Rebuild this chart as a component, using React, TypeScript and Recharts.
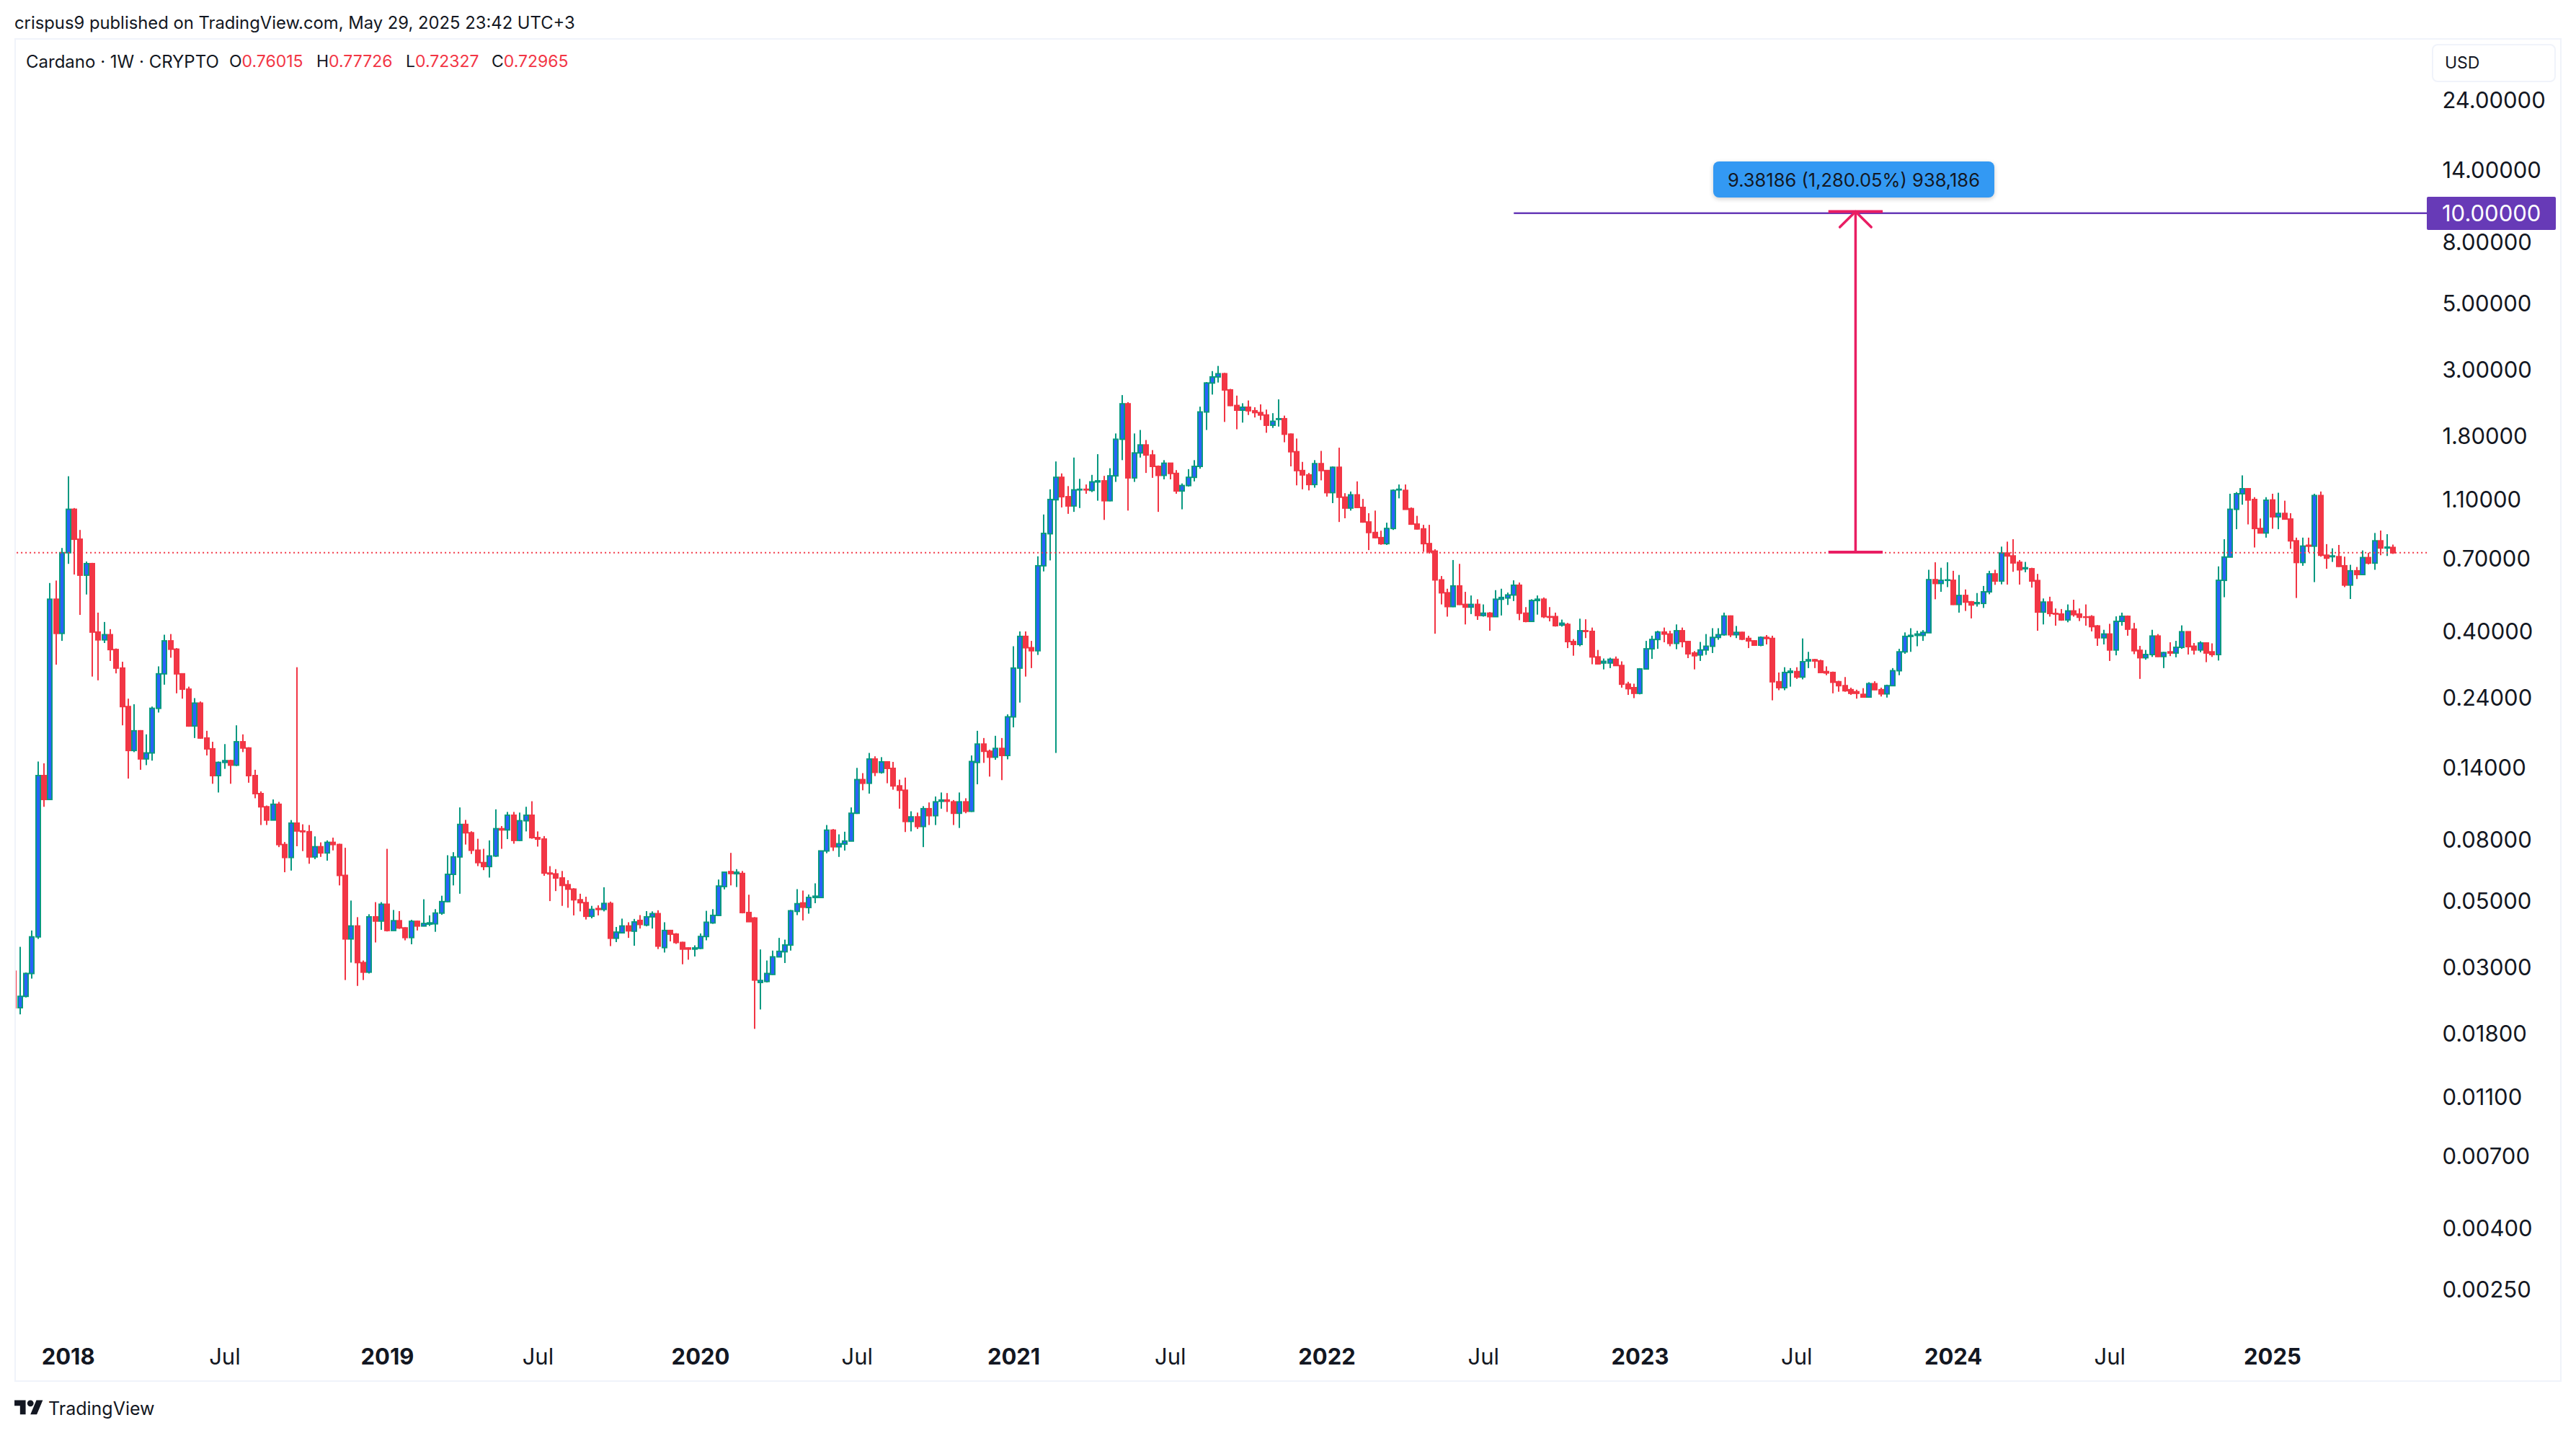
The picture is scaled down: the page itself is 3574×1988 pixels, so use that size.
import React from 'react';
import { ComposedChart, Bar, XAxis, YAxis, ReferenceLine } from 'recharts';

// Weekly ADA/USD candles, index 0 = week of 2017-10-30, index 395 = week of 2025-05-26
const opens = [
.029,.0219,.0239,.0285,.0378,.131,.109,.51,.392,.73,
1.02,.81,.614,.671,.396,.373,.388,.346,.30,.223,
.159,.185,.149,.156,.22,.287,.37,.347,.287,.255,
.192,.229,.175,.161,.131,.145,.147,.142,.17,.162,
.131,.114,.103,.093,.105,.077,.0697,.0908,.0855,.085,
.07,.0757,.0722,.0783,.077,.0607,.0372,.0411,.031,.0288,
.0441,.0427,.0486,.0397,.0428,.0405,.0376,.0426,.0411,.0417,
.0418,.0454,.0496,.0612,.07,.0899,.0843,.0737,.067,.065,
.0705,.087,.0862,.0965,.0795,.0925,.0965,.0812,.0803,.0618,
.0614,.0595,.0565,.0546,.0503,.0492,.0443,.047,.0467,.0489,
.0374,.039,.0411,.0395,.0429,.0414,.0441,.0452,.0348,.0397,
.0386,.0362,.0347,.0344,.0346,.0379,.0421,.0446,.0557,.0625,
.0615,.0616,.0456,.0437,.0266,.0268,.0283,.0324,.0337,.0355,
.046,.0491,.0474,.0512,.0512,.0733,.086,.0757,.0773,.0791,
.098,.127,.1235,.1488,.1343,.1456,.1385,.121,.117,.092,
.0953,.0885,.1015,.0962,.1075,.1085,.107,.098,.107,.0995,
.145,.167,.158,.151,.1615,.153,.206,.30,.383,.351,
.343,.66,.845,1.098,1.305,1.124,1.047,1.185,1.19,1.18,
1.26,1.27,1.09,1.32,1.75,2.30,1.30,1.575,1.675,1.55,
1.42,1.325,1.455,1.345,1.175,1.225,1.305,1.42,2.16,2.70,
2.83,2.90,2.56,2.27,2.19,2.24,2.18,2.15,2.11,1.95,
2.04,2.05,1.82,1.59,1.375,1.33,1.235,1.45,1.375,1.16,
1.41,1.12,1.03,1.14,1.035,.925,.853,.82,.783,.88,
1.185,1.18,1.025,.91,.877,.783,.739,.592,.536,.482,
.565,.49,.48,.49,.45,.458,.446,.51,.515,.527,
.568,.458,.43,.505,.51,.446,.446,.418,.42,.368,
.36,.40,.398,.327,.312,.312,.321,.306,.265,.258,
.247,.298,.348,.374,.396,.39,.363,.40,.368,.337,
.332,.345,.355,.38,.388,.448,.388,.395,.377,.37,
.358,.38,.377,.27,.258,.29,.292,.28,.317,.32,
.317,.292,.29,.27,.262,.254,.25,.245,.24,.266,
.254,.246,.262,.294,.34,.383,.386,.386,.394,.593,
.576,.59,.59,.49,.525,.50,.493,.494,.54,.62,
.587,.728,.712,.678,.645,.645,.589,.462,.499,.457,
.455,.435,.466,.455,.445,.446,.415,.379,.39,.345,
.43,.447,.405,.344,.325,.333,.384,.328,.34,.337,
.352,.397,.355,.345,.364,.34,.333,.59,.706,1.02,
1.15,1.195,1.10,.88,.85,1.096,.963,.988,.946,.80,
.677,.773,.768,1.134,.716,.708,.708,.66,.569,.635,
.617,.703,.674,.80,.757,.76015];

const closes = [
.0219,.0239,.0285,.0378,.131,.109,.51,.392,.73,1.02,
.81,.614,.671,.396,.373,.388,.346,.30,.223,.159,
.185,.149,.156,.22,.287,.37,.347,.287,.255,.192,
.229,.175,.161,.131,.145,.147,.142,.17,.162,.131,
.114,.103,.093,.105,.077,.0697,.0908,.0855,.085,.07,
.0757,.0722,.0783,.077,.0607,.0372,.0411,.031,.0288,.0441,
.0427,.0486,.0397,.0428,.0405,.0376,.0426,.0411,.0419,.0421,
.0454,.0496,.0612,.07,.0899,.0843,.0737,.067,.065,.0705,
.087,.0862,.0965,.0795,.0925,.0965,.0812,.0803,.0618,.0614,
.0595,.0562,.0546,.0503,.0492,.0443,.0467,.0467,.0489,.0374,
.0392,.0411,.0396,.0424,.0416,.0441,.0452,.0352,.0397,.0386,
.0362,.0344,.0344,.0347,.0379,.0423,.0446,.0559,.0622,.0616,
.0622,.0456,.0425,.0271,.027,.0285,.0324,.0338,.0355,.0462,
.0488,.0475,.0512,.0517,.0733,.086,.0757,.0775,.0791,.098,
.127,.1235,.1488,.1343,.1456,.1385,.121,.117,.092,.0953,
.0885,.1015,.0962,.107,.1085,.1075,.098,.107,.0995,.146,
.167,.158,.151,.1615,.153,.206,.30,.383,.351,.343,
.66,.847,1.10,1.305,1.124,1.047,1.185,1.19,1.185,1.26,
1.27,1.09,1.32,1.75,2.30,1.30,1.575,1.675,1.55,1.42,
1.325,1.455,1.345,1.175,1.225,1.305,1.42,2.16,2.70,2.83,
2.90,2.56,2.27,2.19,2.24,2.18,2.15,2.11,1.95,2.01,
2.05,1.82,1.59,1.375,1.33,1.235,1.45,1.375,1.16,1.41,
1.12,1.03,1.14,1.035,.925,.853,.82,.783,.88,1.18,
1.19,1.02,.91,.877,.783,.735,.592,.536,.482,.565,
.49,.48,.49,.45,.458,.446,.51,.517,.527,.568,
.458,.43,.505,.51,.446,.444,.416,.424,.368,.36,
.40,.398,.327,.31,.316,.321,.306,.265,.256,.247,
.298,.348,.374,.396,.39,.363,.40,.368,.335,.33,
.345,.355,.38,.388,.448,.388,.395,.375,.37,.358,
.38,.377,.27,.258,.29,.293,.28,.315,.32,.317,
.29,.289,.269,.262,.252,.247,.247,.24,.266,.254,
.246,.262,.294,.34,.383,.386,.39,.395,.593,.576,
.59,.592,.49,.525,.499,.488,.497,.54,.62,.587,
.728,.712,.675,.64,.65,.587,.462,.499,.457,.455,
.435,.466,.453,.444,.444,.413,.379,.39,.345,.43,
.447,.405,.343,.325,.333,.384,.328,.338,.337,.352,
.397,.354,.345,.364,.337,.333,.59,.706,1.02,1.15,
1.195,1.096,.88,.85,1.094,.963,.988,.946,.80,.677,
.768,.768,1.134,.716,.70,.712,.657,.569,.635,.617,
.703,.674,.80,.757,.762,.72965];

const highs = [
.0306,.035,.0287,.0397,.146,.144,.578,.589,.757,1.316,
1.03,.87,.682,.675,.46,.428,.405,.349,.315,.237,
.227,.186,.18,.223,.304,.388,.39,.35,.288,.26,
.238,.232,.185,.17,.146,.167,.148,.193,.18,.163,
.137,.116,.104,.109,.107,.0785,.093,.302,.09,.0895,
.082,.0783,.0795,.0812,.0775,.0751,.05,.044,.0315,.045,
.0494,.0494,.0745,.0465,.0461,.0407,.0431,.0428,.0505,.0446,
.0468,.0519,.0709,.0726,.1025,.0931,.0853,.0805,.0745,.0795,
.101,.0888,.099,.099,.0985,.103,.1075,.0852,.0822,.0652,
.0637,.0628,.0585,.055,.0527,.0515,.048,.0482,.0554,.0496,
.0408,.0435,.0423,.0434,.0447,.0461,.046,.0464,.0423,.0399,
.0389,.0364,.0349,.0354,.0388,.0462,.0468,.0588,.0625,.0722,
.0637,.0628,.0523,.044,.0343,.0315,.034,.0375,.037,.0465,
.0546,.054,.0524,.0571,.0735,.0895,.0868,.0833,.085,.1025,
.139,.1335,.156,.152,.151,.146,.1456,.127,.129,.0995,
.0985,.1035,.1065,.1115,.115,.1145,.1085,.115,.11,.153,
.185,.175,.16,.178,.175,.21,.355,.398,.398,.37,
.71,.98,1.19,1.475,1.345,1.22,1.52,1.29,1.235,1.33,
1.56,1.32,1.40,1.83,2.46,2.33,1.83,1.88,1.74,1.61,
1.43,1.49,1.46,1.38,1.245,1.39,1.49,2.25,2.72,2.96,
3.08,2.92,2.58,2.45,2.31,2.36,2.24,2.29,2.20,2.14,
2.38,2.10,1.83,1.76,1.47,1.35,1.49,1.60,1.38,1.42,
1.64,1.155,1.17,1.265,1.105,.99,1.01,.865,.92,1.19,
1.235,1.235,1.035,.97,.905,.905,.75,.61,.553,.69,
.67,.54,.525,.51,.49,.462,.547,.553,.537,.59,
.58,.48,.51,.525,.517,.48,.46,.436,.425,.375,
.439,.437,.41,.345,.323,.325,.328,.316,.27,.266,
.30,.37,.385,.40,.41,.40,.42,.41,.37,.342,
.367,.39,.408,.408,.46,.45,.415,.397,.385,.372,
.383,.387,.385,.29,.302,.30,.302,.377,.34,.322,
.32,.304,.292,.272,.28,.258,.254,.257,.269,.271,
.258,.264,.30,.348,.395,.408,.40,.402,.64,.678,
.65,.678,.635,.615,.55,.503,.535,.565,.635,.64,
.765,.795,.81,.69,.68,.65,.62,.513,.52,.475,
.473,.49,.508,.475,.49,.451,.418,.403,.422,.447,
.46,.45,.425,.356,.345,.403,.39,.34,.366,.37,
.417,.398,.364,.369,.365,.363,.657,.81,1.15,1.165,
1.325,1.2,1.12,.95,1.12,1.15,1.159,1.09,.99,.82,
.82,.82,1.15,1.17,.78,.755,.775,.708,.665,.654,
.743,.73,.85,.866,.842,.77726];

const lows = [
.0192,.0208,.0237,.0274,.0372,.103,.109,.308,.37,.67,
.617,.452,.529,.281,.273,.364,.317,.288,.193,.128,
.157,.137,.142,.147,.213,.264,.325,.247,.237,.191,
.175,.174,.153,.123,.115,.138,.123,.141,.157,.124,
.11,.0895,.0895,.093,.0755,.0622,.063,.076,.0732,.0664,
.0688,.07,.068,.0736,.0562,.0271,.031,.0259,.0271,.0285,
.0362,.0399,.0394,.0397,.0402,.0368,.0357,.0397,.041,.0411,
.0393,.0448,.0494,.0562,.0527,.077,.0716,.0652,.0632,.0597,
.07,.0745,.0803,.0775,.079,.0852,.0805,.0758,.0605,.0498,
.0538,.048,.0473,.0446,.046,.0432,.0436,.0446,.046,.0352,
.0363,.0388,.0375,.0353,.0403,.041,.0403,.0344,.0335,.0365,
.0358,.0306,.0317,.0325,.0344,.0368,.0418,.0445,.0545,.0562,
.0555,.0453,.0424,.0186,.0216,.0266,.0282,.0324,.0309,.034,
.0447,.0429,.0452,.049,.0511,.072,.0733,.07,.0735,.079,
.0975,.117,.114,.1305,.133,.1235,.1175,.1015,.0848,.0852,
.0868,.0755,.0895,.0895,.1015,.099,.0895,.0875,.098,.099,
.1225,.1445,.13,.148,.1265,.1485,.19,.23,.281,.30,
.332,.632,.688,.156,1.035,.985,1.0,1.03,1.15,1.165,
1.09,.94,1.085,1.26,1.49,1.01,1.26,1.52,1.35,1.30,
1.0,1.285,1.285,1.15,1.02,1.215,1.265,1.395,1.88,2.47,
2.71,2.0,2.26,1.89,1.99,2.11,2.07,2.03,1.84,1.91,
1.93,1.71,1.42,1.227,1.19,1.18,1.205,1.275,1.125,1.07,
.925,.952,1.01,1.03,.92,.745,.815,.776,.775,.87,
1.11,1.02,.905,.873,.735,.725,.391,.49,.446,.48,
.488,.42,.455,.435,.446,.40,.445,.45,.488,.503,
.434,.427,.428,.453,.441,.43,.413,.413,.35,.33,
.355,.378,.309,.309,.297,.30,.305,.258,.244,.238,
.245,.297,.322,.348,.366,.355,.347,.352,.324,.297,
.317,.332,.337,.373,.385,.381,.378,.372,.35,.356,
.355,.36,.234,.253,.253,.26,.276,.275,.30,.30,
.289,.284,.247,.25,.25,.244,.237,.239,.24,.253,
.241,.239,.261,.284,.335,.34,.355,.37,.394,.51,
.54,.56,.488,.46,.466,.44,.482,.477,.53,.57,
.572,.571,.63,.571,.628,.558,.40,.42,.446,.416,
.432,.427,.446,.431,.416,.398,.356,.36,.317,.331,
.416,.385,.334,.276,.32,.327,.327,.30,.329,.326,
.348,.333,.333,.339,.314,.327,.318,.518,.705,.875,
1.057,.908,.76,.848,.82,.878,.875,.944,.752,.515,
.66,.733,.582,.708,.645,.68,.654,.56,.511,.596,
.615,.667,.64,.716,.712,.72327];

const priceTicks = [24, 14, 8, 5, 3, 1.8, 1.1, 0.7, 0.4, 0.24, 0.14, 0.08, 0.05, 0.03, 0.018, 0.011, 0.007, 0.004, 0.0025];
const timeTickIndex = [9, 35, 62, 87, 114, 140, 166, 192, 218, 244, 270, 296, 322, 348, 375];
const timeTickLabels = ['2018', 'Jul', '2019', 'Jul', '2020', 'Jul', '2021', 'Jul', '2022', 'Jul', '2023', 'Jul', '2024', 'Jul', '2025'];

const LAST_CLOSE = 0.72965;
const TARGET_PRICE = 10;
const MEASURE_FROM = 0.7329;
const MEASURE_TO = 10.115;
const MEASURE_HEAD = 8.98;

const FUTURE_ROWS = 6;
const rows: any[] = [];
for (let i = 0; i < opens.length + FUTURE_ROWS; i++) {
  if (i < opens.length) {
    rows.push({
      idx: i,
      up: closes[i] >= opens[i],
      wick: [lows[i], highs[i]],
      body: [Math.min(opens[i], closes[i]), Math.max(opens[i], closes[i])],
    });
  } else {
    rows.push({ idx: i });
  }
}

const UP_WICK = '#089981';
const UP_FILL = '#2962FF';
const DOWN = '#F23645';
const INK = '#131722';
const FONT = 'Inter, sans-serif';

const WickShape = (p: any) => {
  if (!p.payload || !p.payload.wick || !isFinite(p.y) || !isFinite(p.height)) return null;
  const cx = Math.round(p.x + p.width / 2);
  return <rect x={cx - 1} y={p.y} width={2} height={Math.max(p.height, 1)} fill={p.payload.up ? UP_WICK : DOWN} />;
};
const BodyShape = (p: any) => {
  if (!p.payload || !p.payload.body || !isFinite(p.y) || !isFinite(p.height)) return null;
  const cx = Math.round(p.x + p.width / 2);
  return (
    <rect
      x={cx - 3}
      y={p.y}
      width={6}
      height={Math.max(p.height, 0.5)}
      fill={p.payload.up ? UP_FILL : DOWN}
      stroke={p.payload.up ? UP_WICK : DOWN}
      strokeWidth={2}
    />
  );
};

const PriceTick = (p: any) => (
  <text x={p.x + 14} y={p.y} textAnchor="start" dominantBaseline="central" fontFamily={FONT} fontSize={31} fill={INK}>
    {Number(p.payload.value).toFixed(5)}
  </text>
);
const TimeTick = (p: any) => {
  const k = timeTickIndex.indexOf(p.payload.value);
  const label = timeTickLabels[k] ?? '';
  return (
    <text x={p.x} y={p.y + 21} textAnchor="middle" dominantBaseline="central" fontFamily={FONT} fontSize={31} fontWeight={label === 'Jul' ? 400 : 700} fill={INK}>
      {label}
    </text>
  );
};

const abs = (s: React.CSSProperties): React.CSSProperties => ({ position: 'absolute', ...s });
const line = (s: React.CSSProperties): React.CSSProperties => ({ position: 'absolute', whiteSpace: 'nowrap', fontFamily: FONT, lineHeight: 1, ...s });

const Seg = (a: [number, number], b: [number, number], color: string, w: number, dash?: string, cap?: any) => (
  <ReferenceLine
    xAxisId="annot"
    segment={[{ x: a[0], y: a[1] }, { x: b[0], y: b[1] }]}
    stroke={color}
    strokeWidth={w}
    strokeDasharray={dash}
    strokeLinecap={cap}
    ifOverflow="visible"
  />
);

export default function App() {
  const PINK = '#E91E63';
  const PURPLE = '#673AB7';
  return (
    <div style={abs({ left: 0, top: 0, width: 3574, height: 1988, background: '#fff', overflow: 'hidden' })}>
      <div style={abs({ left: 0, top: 0 })}>
        <ComposedChart width={3574} height={1917} data={rows} margin={{ top: 55, right: 20, bottom: 0, left: 15.3 }} barCategoryGap={0} barGap={0}>
          <XAxis xAxisId="wick" dataKey="idx" hide />
          <XAxis xAxisId="body" dataKey="idx" height={87} ticks={timeTickIndex} interval={0} axisLine={false} tickLine={false} tickSize={0} tickMargin={0} tick={TimeTick} />
          <XAxis xAxisId="annot" type="number" domain={[-0.5, 401.5]} hide allowDataOverflow />
          <YAxis orientation="right" scale="log" domain={[0.001986, 38.08]} allowDataOverflow ticks={priceTicks} interval={0} width={179.6} axisLine={false} tickLine={false} tickSize={0} tickMargin={0} tick={PriceTick} />
          {Seg([-0.5, LAST_CLOSE], [400.3, LAST_CLOSE], DOWN, 2, '2 4')}
          <Bar xAxisId="wick" dataKey="wick" barSize={2} shape={WickShape} isAnimationActive={false} />
          <Bar xAxisId="body" dataKey="body" barSize={6} shape={BodyShape} isAnimationActive={false} />
          {Seg([248.9, TARGET_PRICE], [401.5, TARGET_PRICE], PURPLE, 2.5)}
          {Seg([305.5, MEASURE_FROM], [305.5, MEASURE_TO], PINK, 3.5)}
          {Seg([301, MEASURE_FROM], [310, MEASURE_FROM], PINK, 4)}
          {Seg([301, MEASURE_TO], [310, MEASURE_TO], PINK, 4)}
          {Seg([305.5, MEASURE_TO], [302.9, MEASURE_HEAD], PINK, 3.5, undefined, 'round')}
          {Seg([305.5, MEASURE_TO], [308.1, MEASURE_HEAD], PINK, 3.5, undefined, 'round')}
        </ComposedChart>
      </div>

      {/* left clip of the pane */}
      <div style={abs({ left: 0, top: 0, width: 20, height: 1988, background: '#fff' })} />
      {/* pane frame */}
      <div style={abs({ left: 20, top: 53, width: 3534, height: 1864, boxSizing: 'border-box', border: '2px solid #F0F3FA' })} />

      <div style={line({ left: 20, top: 20, fontSize: 23.8, color: INK })}>crispus9 published on TradingView.com, May 29, 2025 23:42 UTC+3</div>

      <div style={line({ left: 36, top: 74, fontSize: 24, color: INK })}>Cardano · 1W · CRYPTO</div>
      <div style={line({ left: 318, top: 74, fontSize: 23, color: INK })}>O<span style={{ color: DOWN }}>0.76015</span></div>
      <div style={line({ left: 439, top: 74, fontSize: 23, color: INK })}>H<span style={{ color: DOWN }}>0.77726</span></div>
      <div style={line({ left: 563, top: 74, fontSize: 23, color: INK })}>L<span style={{ color: DOWN }}>0.72327</span></div>
      <div style={line({ left: 682, top: 74, fontSize: 23, color: INK })}>C<span style={{ color: DOWN }}>0.72965</span></div>

      {/* currency box */}
      <div style={abs({ left: 3374, top: 61, width: 172, height: 53, boxSizing: 'border-box', border: '2px solid #F0F3FA', borderRadius: 8, background: '#fff' })} />
      <div style={line({ left: 3392, top: 76, fontSize: 23, color: INK })}>USD</div>

      {/* last value label of the horizontal line */}
      <div style={abs({ left: 3367, top: 273, width: 179, height: 46, background: PURPLE, borderRadius: 2 })} />
      <div style={line({ left: 3388, top: 280, fontSize: 31, color: '#fff' })}>10.00000</div>

      {/* measure label */}
      <div style={abs({ left: 2377, top: 224, width: 390, height: 50, background: '#3399F3', borderRadius: 8, boxShadow: '0 2px 6px rgba(0,0,0,0.2)' })} />
      <div style={line({ left: 2377, width: 390, textAlign: 'center', top: 237, fontSize: 25.5, color: '#131722' })}>9.38186 (1,280.05%) 938,186</div>

      {/* logo */}
      <svg style={abs({ left: 20, top: 1938 })} width={40} height={31} viewBox="0 0 36 28">
        <path d="M14 22H7V11H0V4h14v18zM28 22h-8l7.5-18h8L28 22z" fill={INK} />
        <circle cx="20" cy="8" r="4" fill={INK} />
      </svg>
      <div style={line({ left: 67, top: 1942, fontSize: 25, color: INK })}>TradingView</div>
    </div>
  );
}
